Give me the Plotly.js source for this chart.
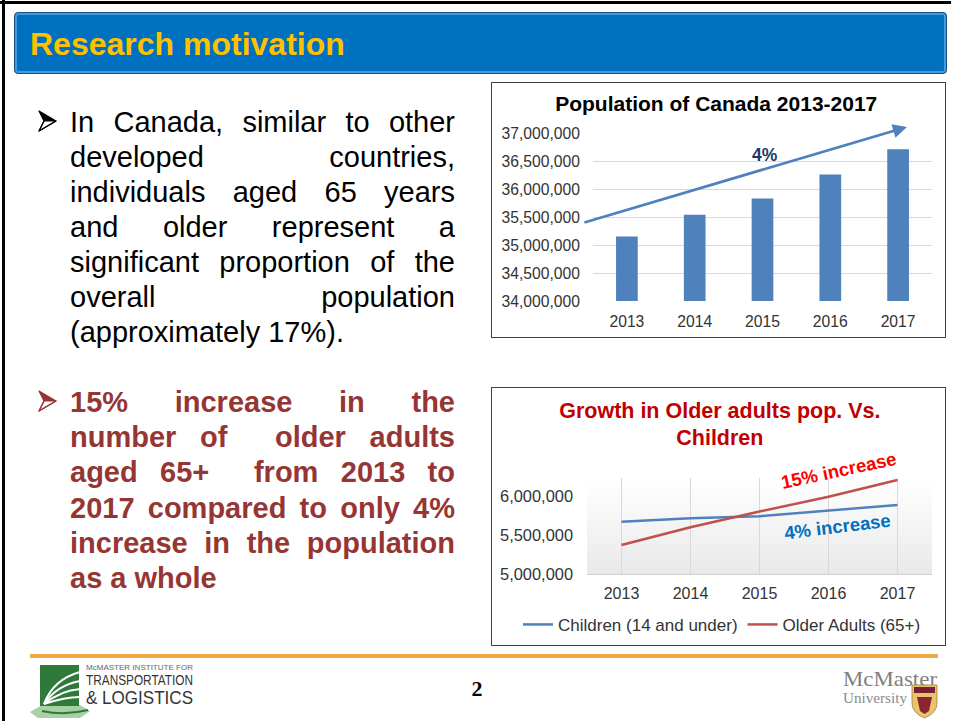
<!DOCTYPE html>
<html>
<head>
<meta charset="utf-8">
<script src="https://cdn.plot.ly/plotly-3.0.1.min.js"></script>
<style>
  html,body{margin:0;padding:0;background:#fff;}
  body{width:961px;height:721px;overflow:hidden;position:relative;font-family:"Liberation Sans",Arial,sans-serif;}
  .abs{position:absolute;}
  .bl{position:absolute;left:70px;width:385px;font-size:29px;line-height:35px;height:35px;}
  .j{text-align:justify;text-align-last:justify;}
  .l{text-align:left;}
  .chartbox{position:absolute;left:491px;width:455px;border:1px solid #404040;box-sizing:border-box;background:#fff;overflow:hidden;}
</style>
</head>
<body>
<!-- slide frame -->
<div class="abs" style="left:0;top:1px;width:951px;height:3px;background:#000"></div>
<div class="abs" style="left:2px;top:0;width:3px;height:721px;background:#000"></div>

<!-- header bar -->
<div class="abs" style="left:14px;top:12px;width:933px;height:62px;box-sizing:border-box;background:#0070C0;border:1px solid #1f4e79;border-radius:4px;box-shadow:inset 0 0 0 2px #3b9be3;"></div>
<div class="abs" style="left:30px;top:13px;height:62px;line-height:62px;font-size:32px;font-weight:bold;color:#FFC000;">Research motivation</div>

<!-- bullet markers -->
<svg class="abs" style="left:0;top:0" width="70" height="721">
  <g>
    <polygon points="39,111 56,121 44,121" fill="#000"/>
    <polygon points="39,131 56,121 44,121" fill="#fff" stroke="#000" stroke-width="1.2" stroke-linejoin="round"/>
    <polygon points="39,111 56,121 39,131 44,121" fill="none" stroke="#000" stroke-width="1.2" stroke-linejoin="round"/>
  </g>
  <g transform="translate(0,280)">
    <polygon points="39,111 56,121 44,121" fill="#963634"/>
    <polygon points="39,131 56,121 44,121" fill="#fff" stroke="#963634" stroke-width="1.2" stroke-linejoin="round"/>
    <polygon points="39,111 56,121 39,131 44,121" fill="none" stroke="#963634" stroke-width="1.2" stroke-linejoin="round"/>
  </g>
</svg>

<!-- bullet 1 -->
<div style="color:#000">
  <div class="bl j" style="top:105px">In Canada, similar to other</div>
  <div class="bl j" style="top:140px">developed countries,</div>
  <div class="bl j" style="top:175px">individuals aged 65 years</div>
  <div class="bl j" style="top:210px">and older represent a</div>
  <div class="bl j" style="top:245px">significant proportion of the</div>
  <div class="bl j" style="top:280px">overall population</div>
  <div class="bl l" style="top:315px">(approximately 17%).</div>
</div>

<!-- bullet 2 -->
<div style="color:#963634;font-weight:bold">
  <div class="bl j" style="top:385px">15% increase in the</div>
  <div class="bl j" style="top:420px">number of &nbsp;older adults</div>
  <div class="bl j" style="top:455px">aged 65+ &nbsp;from 2013 to</div>
  <div class="bl j" style="top:491px">2017 compared to only 4%</div>
  <div class="bl j" style="top:526px">increase in the population</div>
  <div class="bl l" style="top:561px">as a whole</div>
</div>

<!-- charts -->
<div id="chart1" class="chartbox" style="top:82px;height:256px;"></div>
<div id="chart2" class="chartbox" style="top:387px;height:259px;"></div>

<!-- footer -->
<div class="abs" style="left:30px;top:654px;width:908px;height:4px;background:#F2A944"></div>
<div class="abs" style="left:467px;top:676px;width:20px;text-align:center;font-family:'Liberation Serif','Times New Roman',serif;font-weight:bold;font-size:22px;line-height:26px;">2</div>

<svg class="abs" style="left:0;top:655px" width="961" height="66" viewBox="0 655 961 66">
  <!-- left logo -->
  <polygon points="42,705 80,705 90,711 80,718 38,718 30,712" fill="#A9CFA5"/>
  <rect x="40" y="665" width="39" height="41" fill="#2F7A3A"/>
  <path d="M44,704 C50,688 62,677 80,672" stroke="#fff" stroke-width="2" fill="none"/>
  <path d="M44,704 C52,692 64,684 80,681" stroke="#fff" stroke-width="2" fill="none"/>
  <path d="M44,704 C54,696 66,690 80,689" stroke="#fff" stroke-width="2" fill="none"/>
  <path d="M44,704 C56,700 68,697 80,697" stroke="#fff" stroke-width="2" fill="none"/>
  <path d="M42,711 C56,714 72,714 88,710" stroke="#2F7A3A" stroke-width="2" fill="none"/>
  <text x="86" y="670" font-family="'Liberation Sans Narrow','Liberation Sans',Arial,sans-serif" font-size="8" fill="#666" textLength="107" lengthAdjust="spacingAndGlyphs">McMASTER INSTITUTE FOR</text>
  <text x="86" y="685" font-family="'Liberation Sans Narrow','Liberation Sans',Arial,sans-serif" font-size="14" fill="#333" textLength="107" lengthAdjust="spacingAndGlyphs">TRANSPORTATION</text>
  <text x="86" y="704" font-family="'Liberation Sans Narrow','Liberation Sans',Arial,sans-serif" font-size="19" fill="#333" textLength="107" lengthAdjust="spacingAndGlyphs">&amp; LOGISTICS</text>
  <!-- right logo -->
  <text x="843" y="686" font-family="'Liberation Serif','Times New Roman',serif" font-size="21" fill="#808080" textLength="94" lengthAdjust="spacingAndGlyphs">McMaster</text>
  <text x="843" y="703" font-family="'Liberation Serif','Times New Roman',serif" font-size="14" fill="#8a8a8a" textLength="64" lengthAdjust="spacingAndGlyphs">University</text>
  <path d="M912,685 L937,685 L937,703 Q937,713 924.5,718 Q912,713 912,703 Z" fill="#E8C46A" stroke="#A0823A" stroke-width="0.8"/>
  <rect x="914" y="687" width="21" height="6" fill="#7A1F33"/>
  <path d="M917,697 L932,697 L929,711 L924.5,714 L920,711 Z" fill="#8B2332"/>
</svg>

<script>
// ---------- data ----------
var years = ['2013', '2014', '2015', '2016', '2017'];
var population = [35150000, 35540000, 35830000, 36260000, 36710000];
var children = [5670000, 5714000, 5740000, 5810000, 5885000];
var olderAdults = [5372000, 5600000, 5800000, 5990000, 6205000];
var popTickVals = [34000000, 34500000, 35000000, 35500000, 36000000, 36500000, 37000000];
var growthTickVals = [5000000, 5500000, 6000000];
var seriesNames = ['Children (14 and under)', 'Older Adults (65+)'];

var FONT = 'Liberation Sans, Arial, sans-serif';

// ---------- chart 1 ----------
Plotly.newPlot('chart1', [{
  type: 'bar',
  x: years,
  y: population,
  marker: {color: '#4F81BD'},
  hoverinfo: 'x+y'
}], {
  width: 453, height: 254,
  margin: {l: 101, r: 13, t: 50, b: 36, pad: 0},
  paper_bgcolor: '#fff', plot_bgcolor: '#fff',
  font: {family: FONT, color: '#333', size: 16},
  title: {text: '<b>Population of Canada 2013-2017</b>', font: {family: FONT, size: 21, color: '#000'},
          x: 0.495, xanchor: 'center', y: 1 - 21 / 254, yanchor: 'middle'},
  showlegend: false,
  bargap: 0.68,
  xaxis: {type: 'category', showgrid: false, showline: false, zeroline: false, ticks: '',
          tickfont: {size: 15.7, color: '#333'}, ticklabelstandoff: 9},
  yaxis: {range: [34000000, 37000000], tickvals: popTickVals, tickformat: ',', showgrid: true,
          gridcolor: '#D9D9D9', gridwidth: 1, zeroline: false, showline: false, ticks: '',
          tickfont: {size: 15.7, color: '#333'}, ticklabelstandoff: 12},
  annotations: [
    {xref: 'paper', yref: 'paper', x: 0.926, y: 1.036, ax: -324, ay: 96, axref: 'pixel', ayref: 'pixel',
     text: '', showarrow: true, arrowhead: 2, arrowsize: 1, arrowwidth: 2.8, arrowcolor: '#4F81BD', standoff: 0, startstandoff: 0},
    {xref: 'paper', yref: 'paper', x: 0.507, y: 0.869, xanchor: 'center', yanchor: 'middle', text: '<b>4%</b>', showarrow: false,
     font: {family: FONT, size: 17.5, color: '#1F3864'}}
  ]
}, {displayModeBar: false, staticPlot: true});

// ---------- chart 2 ----------
var gradSvg = '<svg xmlns="http://www.w3.org/2000/svg" width="10" height="100" preserveAspectRatio="none">' +
  '<defs><linearGradient id="g" x1="0" y1="0" x2="0" y2="1">' +
  '<stop offset="0" stop-color="#ffffff"/><stop offset="1" stop-color="#E9E9E9"/></linearGradient></defs>' +
  '<rect width="10" height="100" fill="url(#g)"/></svg>';
var gradUri = 'data:image/svg+xml;charset=utf-8,' + encodeURIComponent(gradSvg);

Plotly.newPlot('chart2', [
  {type: 'scatter', mode: 'lines', name: seriesNames[0], x: years, y: children,
   line: {color: '#4F81BD', width: 2.5}, cliponaxis: false},
  {type: 'scatter', mode: 'lines', name: seriesNames[1], x: years, y: olderAdults,
   line: {color: '#C0504D', width: 2.5}, cliponaxis: false}
], {
  width: 453, height: 277,
  margin: {l: 95, r: 13, t: 90, b: 91, pad: 0},
  paper_bgcolor: '#fff', plot_bgcolor: 'rgba(0,0,0,0)',
  font: {family: FONT, color: '#333', size: 16},
  title: {text: '<b>Growth in Older adults pop. Vs.<br>Children</b>', font: {family: FONT, size: 21.5, color: '#C00000'},
          x: 0.503, xanchor: 'center', y: 1 - 29.5 / 277, yanchor: 'middle'},
  images: [{source: gradUri, xref: 'paper', yref: 'paper', x: 0, y: 1, sizex: 1, sizey: 1,
            sizing: 'stretch', layer: 'below', xanchor: 'left', yanchor: 'top'}],
  showlegend: true,
  legend: {orientation: 'h', x: -0.2, xanchor: 'left', y: -0.53, yanchor: 'middle',
           font: {family: FONT, size: 17, color: '#333'}, bgcolor: 'rgba(0,0,0,0)', itemwidth: 30, tracegroupgap: 0},
  xaxis: {type: 'category', range: [-0.5, 4.5], showgrid: true, gridcolor: '#D9D9D9', gridwidth: 1, showline: true,
          linecolor: '#D0D0D0', linewidth: 1, zeroline: false, ticks: '',
          tickfont: {size: 16, color: '#333'}, ticklabelstandoff: 5},
  yaxis: {range: [5000000, 6230000], tickvals: growthTickVals, tickformat: ',', showgrid: false,
          zeroline: false, showline: false, ticks: '', tickfont: {size: 16.4, color: '#333'}, ticklabelstandoff: 13},
  annotations: [
    {xref: 'paper', yref: 'paper', x: 0.728, y: 1.083, xanchor: 'center', yanchor: 'middle', text: '<b>15% increase</b>', showarrow: false,
     textangle: -12, font: {family: FONT, size: 18.5, color: '#FF0000'}},
    {xref: 'paper', yref: 'paper', x: 0.725, y: 0.49, xanchor: 'center', yanchor: 'middle', text: '<b>4% increase</b>', showarrow: false,
     textangle: -7, font: {family: FONT, size: 18.5, color: '#0070C0'}}
  ]
}, {displayModeBar: false, staticPlot: true});
</script>
</body>
</html>
